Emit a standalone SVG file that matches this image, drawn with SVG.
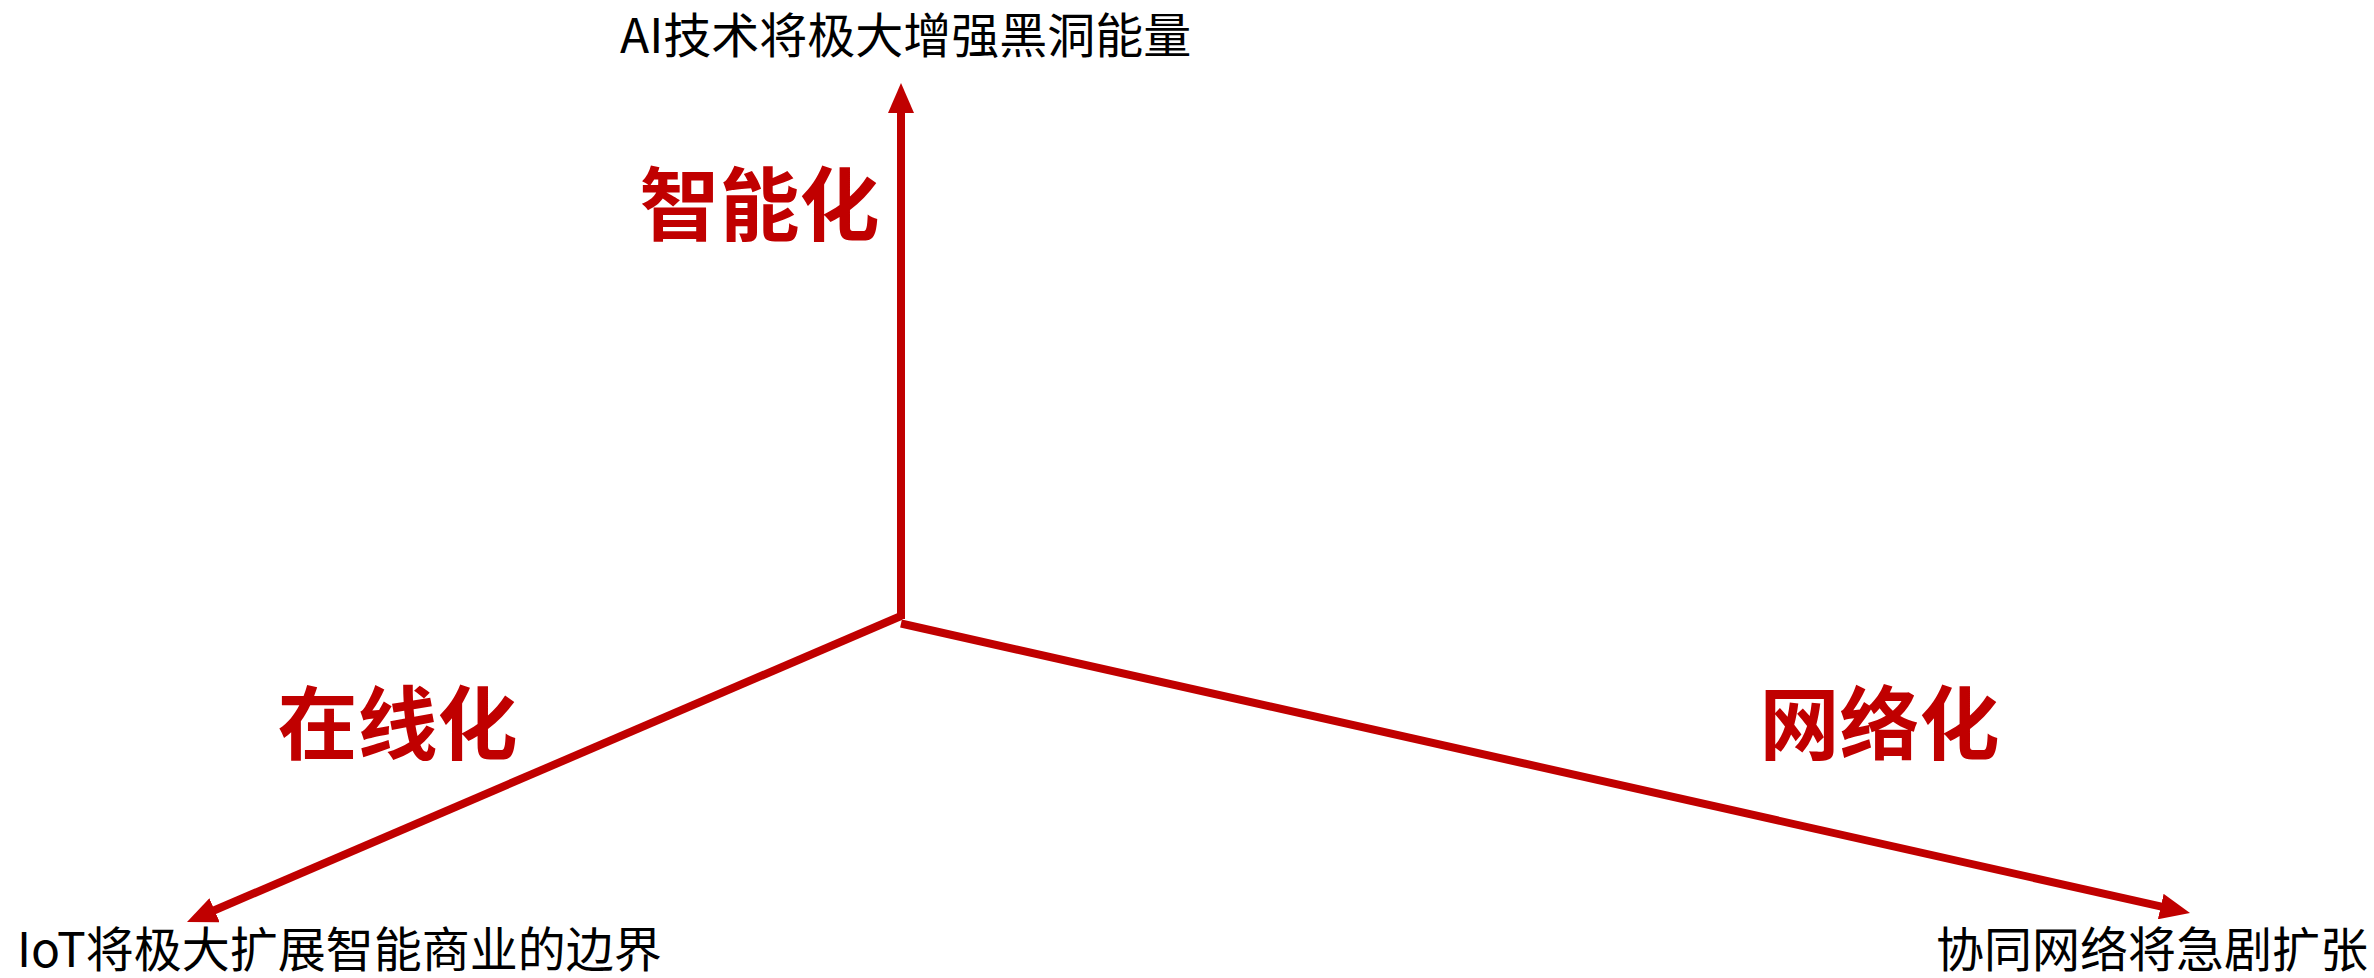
<svg xmlns="http://www.w3.org/2000/svg" width="2374" height="978" viewBox="0 0 2374 978">
  <style>
    .axis { stroke: #C00000; stroke-width: 8; fill: none; stroke-linecap: butt; }
    .label { font-family: "Noto Sans CJK SC", "Liberation Sans", sans-serif; font-size: 48px; fill: #000000; }
    .title { font-family: "Noto Sans CJK SC", "Liberation Sans", sans-serif; font-size: 80px; font-weight: 700; fill: #C00000; text-anchor: middle; }
  </style>
  <defs>
    <marker id="arrow" viewBox="0 0 30 26" markerWidth="30" markerHeight="26" refX="2" refY="13" orient="auto" markerUnits="userSpaceOnUse">
      <path d="M0,0 L30,13 L0,26 Z" fill="#C00000"/>
    </marker>
  </defs>
  <rect width="2374" height="978" fill="#FFFFFF"/>
  <g id="connectors">
    <line class="axis" x1="901" y1="619" x2="901" y2="111" marker-end="url(#arrow)"/>
    <line class="axis" x1="901" y1="616" x2="212.7" y2="911" marker-end="url(#arrow)"/>
    <line class="axis" x1="901" y1="623.5" x2="2162.7" y2="906.9" marker-end="url(#arrow)"/>
  </g>
  <g id="node-intelligent">
    <text class="title" x="759.5" y="234">智能化</text>
  </g>
  <g id="node-online">
    <text class="title" x="397.5" y="753">在线化</text>
  </g>
  <g id="node-network">
    <text class="title" x="1879.5" y="753">网络化</text>
  </g>
  <g id="node-ai">
    <text class="label" x="620" y="53">AI技术将极大增强黑洞能量</text>
  </g>
  <g id="node-iot">
    <text class="label" x="17" y="967">IoT将极大扩展智能商业的边界</text>
  </g>
  <g id="node-collab">
    <text class="label" x="1936" y="967">协同网络将急剧扩张</text>
  </g>
</svg>
